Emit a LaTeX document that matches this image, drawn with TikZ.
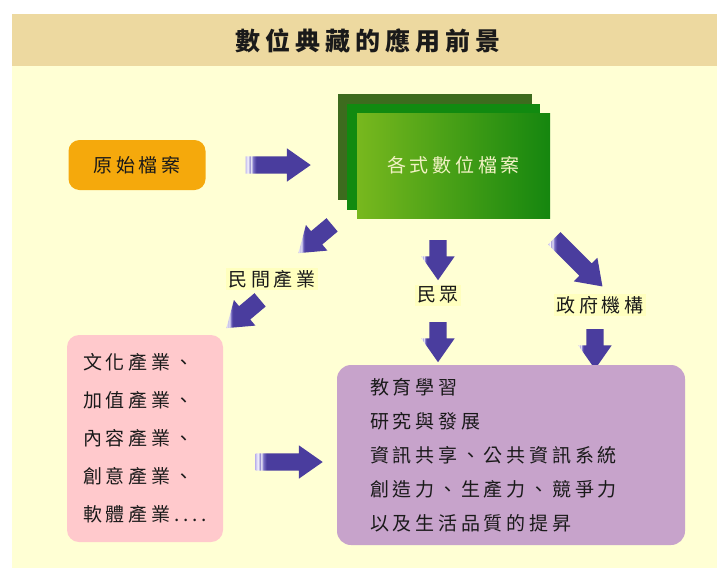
\documentclass[tikz,border=0pt]{standalone}
\usepackage{fontspec}
\setmainfont{Noto Sans CJK TC}
\newfontfamily\cjk{Noto Sans CJK TC}[LetterSpace=20]
\usetikzlibrary{shapes.arrows}

\definecolor{bandtan}{HTML}{EDD9A0}
\definecolor{cream}{HTML}{FFFFD4}
\definecolor{labelbg}{HTML}{FFFFBE}
\definecolor{origorange}{HTML}{F5A90C}
\definecolor{greenback}{HTML}{3D6B1E}
\definecolor{greenmid}{HTML}{118A10}
\definecolor{greenleft}{HTML}{78B81E}
\definecolor{greenright}{HTML}{15860F}
\definecolor{greentext}{HTML}{F2F2C4}
\definecolor{pinkbox}{HTML}{FFC9CC}
\definecolor{purplebox}{HTML}{C7A3CB}
\definecolor{arrdark}{HTML}{4A3D9E}
\definecolor{arrmid}{HTML}{7E74C8}
\definecolor{arrlight}{HTML}{C8C0F0}
\definecolor{inktext}{HTML}{1A1A1A}

\pgfdeclarehorizontalshading{tailshade}{100bp}{color(0bp)=(arrlight); color(25bp)=(arrlight); color(27bp)=(white); color(28bp)=(arrmid); color(29bp)=(white); color(30.5bp)=(arrmid); color(33bp)=(arrdark); color(100bp)=(arrdark)}

\tikzset{
  bigarrow/.style={single arrow, inner xsep=0, inner ysep=8.5, minimum height=#1,
    single arrow head extend=8, single arrow tip angle=70, shading=tailshade},
  txt/.style={font=\cjk\fontsize{19}{22}\selectfont, text=inktext},
  lbl/.style={txt, fill=labelbg, inner sep=2},
}

\begin{document}
\begin{tikzpicture}[x=1pt, y=-1pt]
\useasboundingbox (0,0) rectangle (717,568);
\fill[cream] (12,66) rectangle (717,568);
\fill[bandtan] (12,14) rectangle (717,66);
\node[font=\cjk\fontsize{25}{28}\selectfont\bfseries, text=inktext] (title) at (368,41){數位典藏的應用前景};

\node[txt, fill=origorange, rounded corners=11, minimum width=137, minimum height=50] (orig) at (137,165){原始檔案};
\node[bigarrow=65] (arrA) at (272,165){};

\node[fill=greenback, minimum width=194, minimum height=106] (green3) at (435,147){};
\node[fill=greenmid, minimum width=193, minimum height=106] (green2) at (443.5,157){};
\node[txt, text=greentext, left color=greenleft, right color=greenright, minimum width=193, minimum height=105] (green1) at (453.5,165.5){各式數位檔案};

\node[bigarrow=44, rotate=-140] (arrB) at (320,235){};
\node[lbl] (priv) at (272,279){民間產業};
\node[bigarrow=44, rotate=-140] (arrC) at (248,310){};

\node[bigarrow=40, rotate=-90] (arrD) at (438,254){};
\node[lbl] (public) at (438,295){民眾};
\node[bigarrow=40, rotate=-90] (arrE) at (438,336){};

\node[bigarrow=68, rotate=-45] (arrF) at (574,258){};
\node[lbl] (gov) at (600,305){政府機構};
\node[bigarrow=40, rotate=-90] (arrG) at (595,343){};

\node[txt, fill=pinkbox, rounded corners=12, minimum width=156, minimum height=207, align=left, font=\cjk\fontsize{19}{38}\selectfont] (industry) at (145,438.5){文化產業、\\加值產業、\\內容產業、\\創意產業、\\軟體產業....};
\node[bigarrow=67] (arrH) at (283,462){};

\node[txt, fill=purplebox, rounded corners=14, text width=282, inner xsep=33, minimum height=180, align=left, font=\cjk\fontsize{19}{34}\selectfont] (uses) at (511,455){教育學習\\研究與發展\\資訊共享、公共資訊系統\\創造力、生產力、競爭力\\以及生活品質的提昇};
\end{tikzpicture}
\end{document}
